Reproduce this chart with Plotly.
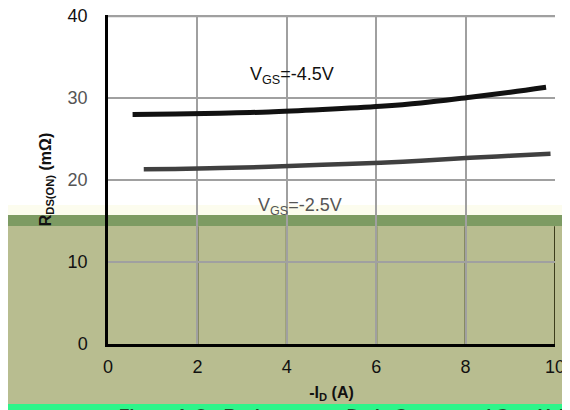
import plotly.graph_objects as go

# Data
id_a = [0.55, 1.5, 2.5, 3.6, 4.8, 6.1, 7.0, 8.1, 9.0, 9.8]
rds_45 = [28.0, 28.05, 28.15, 28.3, 28.6, 29.0, 29.4, 30.1, 30.7, 31.3]
id_b = [0.8, 1.5, 2.5, 3.6, 4.8, 6.1, 7.0, 8.1, 9.0, 9.9]
rds_25 = [21.3, 21.35, 21.45, 21.6, 21.85, 22.1, 22.35, 22.7, 22.95, 23.2]
x_ticks = [0, 2, 4, 6, 8, 10]
y_ticks = [0, 10, 20, 30, 40]
y_tick_text = ["0", "10", "<span style='color:#555'>20</span>",
               "<span style='color:#555'>30</span>", "40"]
caption = "<b>Figure 4. On-Resistance vs. Drain Current and Gate Voltage</b>"

fig = go.Figure()
fig.add_trace(go.Scatter(x=id_a, y=rds_45, mode="lines",
                         line=dict(color="#111111", width=5, shape="spline"),
                         showlegend=False))
fig.add_trace(go.Scatter(x=id_b, y=rds_25, mode="lines",
                         line=dict(color="#404040", width=4.5, shape="spline"),
                         showlegend=False))

font = "Liberation Sans, Arial, sans-serif"

# paper-y helper: plot area height 329, bottom at screen pixel 344
def py(p):
    return (344 - p) / 329.0

olive_top = 14.35  # data y where olive band begins
shapes = [
    dict(type="rect", xref="paper", yref="paper", layer="below",
         x0=-0.3, x1=1.1, y0=py(420), y1=py(226),
         fillcolor="#b8bd90", line=dict(width=0)),
    dict(type="rect", xref="paper", yref="paper", layer="below",
         x0=-0.3, x1=1.1, y0=py(226), y1=py(215),
         fillcolor="#7d9b63", line=dict(width=0)),
    dict(type="rect", xref="paper", yref="paper", layer="below",
         x0=-0.3, x1=1.1, y0=py(215), y1=py(205),
         fillcolor="#fcfcee", line=dict(width=0)),
    dict(type="rect", xref="paper", yref="paper", layer="below",
         x0=-0.3, x1=1.1, y0=py(420), y1=py(404),
         fillcolor="#2ef58a", line=dict(width=0)),
    dict(type="line", xref="x", yref="y", layer="below",
         x0=x_ticks[0], x1=x_ticks[-1], y0=y_ticks[-1], y1=y_ticks[-1],
         line=dict(color="#a0a0a0", width=2.5)),
]
for xv in x_ticks[1:]:
    shapes.append(dict(type="line", xref="x", yref="y", layer="below",
                       x0=xv, x1=xv, y0=0, y1=olive_top,
                       line=dict(color="#3c3c1c", width=2)))
shapes.append(dict(type="line", xref="x", yref="y", layer="below",
                   x0=0, x1=10, y0=10, y1=10,
                   line=dict(color="#3c3c1c", width=2)))

fig.update_layout(
    width=570, height=410,
    margin=dict(l=100, r=23, t=7, b=74, autoexpand=False),
    paper_bgcolor="white",
    plot_bgcolor="rgba(0,0,0,0)",
    font=dict(family=font, size=18, color="#111"),
    xaxis=dict(range=[0, 10], tickvals=x_ticks, showgrid=True,
               gridcolor="#a0a0a0", gridwidth=2, automargin=False,
               showline=True, linecolor="black", linewidth=2.5,
               zeroline=False, ticks="", ticklabelstandoff=5,
               ticklabeloverflow="allow",
               title=dict(text="<b>-I<sub>D</sub> (A)</b>", font=dict(size=16), standoff=11)),
    yaxis=dict(range=[0, 40.12], tickvals=y_ticks, ticktext=y_tick_text, showgrid=True,
               gridcolor="#a0a0a0", gridwidth=2, automargin=False,
               showline=True, linecolor="black", linewidth=2.5,
               zeroline=False, ticks="", ticklabelstandoff=14,
               ticklabeloverflow="allow",
               title=dict(text="<b>R<sub>DS(ON)</sub> (mΩ)</b>", font=dict(size=16), standoff=13)),
    shapes=shapes,
    annotations=[
        dict(x=4.12, y=32.7, xref="x", yref="y", showarrow=False,
             text="V<sub>GS</sub>=-4.5V", font=dict(size=18, color="#111")),
        dict(x=4.3, y=16.8, xref="x", yref="y", showarrow=False,
             text="V<sub>GS</sub>=-2.5V", font=dict(size=18, color="#555")),
        dict(x=0.02, y=py(404), xref="paper", yref="paper",
             xanchor="left", yanchor="top", showarrow=False, text=caption,
             font=dict(size=17, color="#1e4a2a")),
    ],
)

fig.write_html("out.html")
